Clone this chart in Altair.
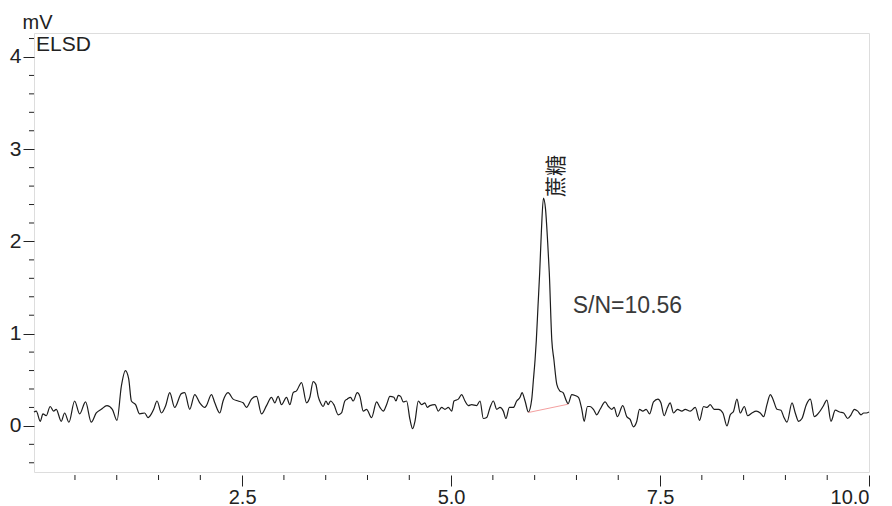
import altair as alt
import pandas as pd

# ---- data ----
time = [0.01, 0.037, 0.085, 0.117, 0.156, 0.204, 0.244, 0.276, 0.336, 0.376, 0.428, 0.496,
        0.556, 0.627, 0.695, 0.755, 0.815, 0.883, 0.947, 1.003, 1.055, 1.103, 1.143, 1.175,
        1.226, 1.274, 1.334, 1.374, 1.414, 1.442, 1.482, 1.534, 1.586, 1.634, 1.693, 1.773,
        1.813, 1.873, 1.933, 1.993, 2.053, 2.073, 2.133, 2.173, 2.233, 2.272, 2.332, 2.392,
        2.452, 2.512, 2.552, 2.612, 2.672, 2.732, 2.792, 2.851, 2.891, 2.931, 2.971, 3.031,
        3.071, 3.111, 3.151, 3.211, 3.271, 3.310, 3.350, 3.382, 3.410, 3.438, 3.470, 3.502,
        3.530, 3.558, 3.598, 3.650, 3.689, 3.729, 3.757, 3.797, 3.829, 3.877, 3.909, 3.949,
        3.989, 4.049, 4.109, 4.149, 4.189, 4.228, 4.268, 4.316, 4.340, 4.368, 4.396, 4.428,
        4.468, 4.508, 4.540, 4.568, 4.608, 4.648, 4.687, 4.715, 4.747, 4.807, 4.847, 4.887,
        4.927, 4.967, 5.007, 5.035, 5.087, 5.126, 5.166, 5.206, 5.246, 5.306, 5.346, 5.386,
        5.426, 5.466, 5.506, 5.546, 5.585, 5.625, 5.657, 5.697, 5.745, 5.785, 5.825, 5.849,
        5.885, 5.925, 5.965, 5.985, 6.005, 6.020, 6.040, 6.060, 6.080, 6.105, 6.130, 6.155,
        6.175, 6.205, 6.230, 6.265, 6.300, 6.340, 6.380, 6.400, 6.444, 6.484, 6.524, 6.564,
        6.592, 6.632, 6.663, 6.703, 6.743, 6.783, 6.843, 6.883, 6.923, 6.950, 6.990, 7.054,
        7.102, 7.142, 7.182, 7.222, 7.254, 7.294, 7.334, 7.374, 7.422, 7.474, 7.510, 7.549,
        7.589, 7.621, 7.661, 7.709, 7.761, 7.801, 7.861, 7.921, 7.973, 8.021, 8.061, 8.100,
        8.148, 8.200, 8.252, 8.300, 8.340, 8.380, 8.420, 8.460, 8.508, 8.548, 8.599, 8.651,
        8.699, 8.739, 8.779, 8.819, 8.851, 8.899, 8.947, 8.979, 9.019, 9.079, 9.118, 9.158,
        9.198, 9.250, 9.298, 9.346, 9.398, 9.450, 9.497, 9.545, 9.597, 9.649, 9.697, 9.745,
        9.785, 9.825, 9.865, 9.905, 9.936, 9.968, 10.0]

signal = [0.15, 0.16, 0.05, 0.13, 0.11, 0.21, 0.16, 0.18, 0.05, 0.14, 0.04, 0.27,
          0.13, 0.26, 0.04, 0.14, 0.18, 0.22, 0.18, 0.06, 0.43, 0.60, 0.51, 0.27,
          0.23, 0.13, 0.14, 0.09, 0.13, 0.18, 0.27, 0.14, 0.22, 0.36, 0.20, 0.35,
          0.36, 0.18, 0.34, 0.25, 0.20, 0.22, 0.34, 0.25, 0.14, 0.27, 0.36, 0.29,
          0.27, 0.25, 0.20, 0.29, 0.32, 0.13, 0.22, 0.31, 0.25, 0.32, 0.23, 0.31,
          0.23, 0.36, 0.38, 0.47, 0.25, 0.31, 0.48, 0.45, 0.32, 0.25, 0.21, 0.27,
          0.23, 0.27, 0.23, 0.12, 0.14, 0.27, 0.29, 0.31, 0.27, 0.36, 0.32, 0.16,
          0.18, 0.09, 0.26, 0.20, 0.16, 0.23, 0.32, 0.31, 0.27, 0.33, 0.32, 0.26,
          0.27, 0.07, -0.03, 0.05, 0.27, 0.23, 0.25, 0.20, 0.22, 0.23, 0.16, 0.20,
          0.18, 0.20, 0.16, 0.27, 0.29, 0.34, 0.27, 0.22, 0.23, 0.22, 0.27, 0.08,
          0.09, 0.20, 0.27, 0.18, 0.20, 0.16, 0.08, 0.20, 0.20, 0.27, 0.31, 0.36,
          0.27, 0.15, 0.29, 0.50, 0.72, 0.93, 1.30, 1.66, 2.10, 2.47, 2.35, 2.00,
          1.66, 0.93, 0.72, 0.45, 0.38, 0.36, 0.27, 0.24, 0.34, 0.33, 0.31, 0.18,
          0.05, 0.21, 0.21, 0.18, 0.12, 0.18, 0.26, 0.21, 0.18, 0.20, 0.10, 0.22,
          0.10, 0.07, -0.01, 0.05, 0.18, 0.16, 0.18, 0.13, 0.26, 0.29, 0.25, 0.11,
          0.20, 0.25, 0.14, 0.18, 0.16, 0.18, 0.16, 0.20, 0.06, 0.21, 0.20, 0.23,
          0.18, 0.18, 0.14, 0.00, 0.12, 0.16, 0.29, 0.14, 0.21, 0.11, 0.14, 0.16,
          0.14, 0.10, 0.23, 0.34, 0.29, 0.18, 0.17, 0.10, 0.04, 0.25, 0.14, 0.05,
          0.08, 0.23, 0.29, 0.10, 0.14, 0.21, 0.28, 0.05, 0.17, 0.15, 0.14, 0.08,
          0.12, 0.18, 0.16, 0.12, 0.14, 0.14, 0.15]

baseline_t = [5.925, 6.40]
baseline_v = [0.145, 0.235]

peak_name = ["蔗糖"]
peak_t = [6.105]
peak_v = [2.47]

sn_label = ["S/N=10.56"]
sn_t = [6.456]
sn_v = [1.22]

detector = ["ELSD"]

x_major = [2.5, 5.0, 7.5, 10.0]
x_minor = [0.5, 1.0, 1.5, 2.0, 3.0, 3.5, 4.0, 4.5, 5.5, 6.0, 6.5, 7.0,
           8.0, 8.5, 9.0, 9.5]
y_major = [0, 1, 2, 3, 4]
y_minor = [-0.4, -0.2, 0.2, 0.4, 0.6, 0.8, 1.2, 1.4, 1.6, 1.8, 2.2,
           2.4, 2.6, 2.8, 3.2, 3.4, 3.6, 3.8, 4.2]

X_DOMAIN = [0.01, 10.0]
Y_DOMAIN = [-0.5, 4.26]
W, H = 835, 439
FONT = "Liberation Sans"
INK = "#222222"

xs = alt.Scale(domain=X_DOMAIN, nice=False, zero=False)
ys = alt.Scale(domain=Y_DOMAIN, nice=False, zero=False)

trace_df = pd.DataFrame({"t": time, "v": signal})
base_df = pd.DataFrame({"t": baseline_t, "v": baseline_v})

x_axis = alt.Axis(
    values=x_major, format=".1f", offset=3, domain=False, grid=False, title=None,
    orient="bottom", tickSize=11, labelOverlap=False, labelFontSize=20,
    labelPadding=1, labelColor=INK, tickColor=INK, labelFont=FONT,
)
y_axis = alt.Axis(
    values=y_major, format="d", domain=False, grid=False, orient="left",
    tickSize=11, labelOverlap=False, labelFontSize=21, labelPadding=2,
    labelColor=INK, tickColor=INK, labelFont=FONT,
    title="mV", titleAngle=0, titleX=-12, titleY=-5, titleAlign="left",
    titleBaseline="alphabetic", titleFontSize=20, titleFontWeight="normal",
    titleFont=FONT, titleColor=INK,
)

trace = alt.Chart(trace_df).mark_line(
    color="#1c1c1c", strokeWidth=1.2, interpolate="monotone"
).encode(
    x=alt.X("t:Q", scale=xs, axis=x_axis),
    y=alt.Y("v:Q", scale=ys, axis=y_axis),
)

baseline = alt.Chart(base_df).mark_line(color="#f4a0a0", strokeWidth=1).encode(
    x=alt.X("t:Q", scale=xs),
    y=alt.Y("v:Q", scale=ys),
)

# minor tick marks (short, unlabelled) drawn through the same scales
x_minor_ticks = alt.Chart(pd.DataFrame({"t": x_minor})).mark_rule(
    color=INK, strokeWidth=1, clip=False
).encode(x=alt.X("t:Q", scale=xs), y=alt.value(H + 3), y2=alt.value(H + 8))

y_minor_ticks = alt.Chart(pd.DataFrame({"v": y_minor})).mark_rule(
    color=INK, strokeWidth=1, clip=False
).encode(y=alt.Y("v:Q", scale=ys), x=alt.value(-5), x2=alt.value(0))

peak_df = pd.DataFrame({"t": peak_t, "v": peak_v, "label": peak_name})
peak_text = alt.Chart(peak_df).mark_text(
    angle=270, align="left", baseline="middle", dx=1, dy=14,
    font="Noto Sans CJK SC", fontSize=21, color=INK,
).encode(x=alt.X("t:Q", scale=xs), y=alt.Y("v:Q", scale=ys), text="label:N")

sn_df = pd.DataFrame({"t": sn_t, "v": sn_v, "label": sn_label})
sn_text = alt.Chart(sn_df).mark_text(
    align="left", baseline="alphabetic", font=FONT, fontSize=23, color="#3a3a3a",
).encode(x=alt.X("t:Q", scale=xs), y=alt.Y("v:Q", scale=ys), text="label:N")

det_df = pd.DataFrame({"label": detector})
det_text = alt.Chart(det_df).mark_text(
    align="left", baseline="alphabetic", font=FONT, fontSize=21, color=INK,
).encode(x=alt.value(2), y=alt.value(18), text="label:N")

chart = alt.layer(
    trace, baseline, x_minor_ticks, y_minor_ticks, peak_text, sn_text, det_text
).properties(
    width=W, height=H,
    autosize=alt.AutoSizeParams(type="none"),
    padding={"left": 34, "top": 33, "right": 23, "bottom": 34},
).configure_view(stroke="#a0a0a0", strokeWidth=1).configure(font=FONT)

chart.save("out.html", embed_options={"renderer": "svg", "actions": False})
